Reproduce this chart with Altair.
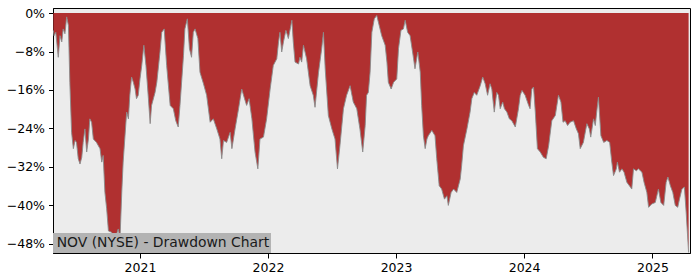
import altair as alt
import pandas as pd

# Drawdown series: days since 2021-01-01 and drawdown (%)
day_offsets = [
    -247, -245, -240, -233, -228, -223, -219, -214, -209, -204, -200, -195, -190, -185, -181, -176,
    -171, -166, -162, -157, -152, -147, -143, -138, -133, -124, -114, -109, -105, -100, -95, -90,
    -81, -71, -62, -57, -52, -48, -38, -33, -29, -24, -19, -14, -10, -5, 0, 5, 11, 17, 24, 29, 33,
    43, 48, 57,
    62, 69, 76, 86, 95, 102, 109, 114, 124, 128, 135, 141, 147, 152, 157, 165, 171, 181, 190, 200,
    209, 219, 228, 233, 238, 247, 257, 262, 271, 281, 290, 298, 304, 311, 319, 328, 336, 342, 352,
    361, 371, 380, 390, 395, 399, 404, 409, 416, 423, 433, 437, 442, 452, 456, 461, 466, 475, 485,
    494, 499, 509, 518, 523, 528, 537, 547, 556, 563, 570, 580, 589, 599, 608, 618, 627, 635, 642,
    646, 651, 656, 661, 668, 675, 682, 689, 699, 704, 708, 716, 723, 732, 737, 744, 751, 756, 763,
    770, 780, 784, 792, 799, 803, 808, 813, 818, 822, 832, 841, 846, 853, 860, 868, 875, 879, 887,
    894, 903, 913, 917, 922, 932, 941, 946, 953, 960, 970, 977, 984, 991, 998, 1003, 1010, 1017,
    1022, 1027, 1034, 1039, 1046, 1053, 1060, 1070, 1079, 1084, 1089, 1098, 1108, 1112, 1117, 1122,
    1127, 1133, 1141, 1150, 1158, 1165, 1174, 1184, 1193, 1200, 1206, 1212, 1219, 1226, 1236, 1244,
    1250, 1255, 1264, 1274, 1281, 1285, 1293, 1298, 1302, 1307, 1314, 1322, 1331, 1339, 1345, 1350,
    1358, 1361, 1367, 1374, 1380, 1388, 1398, 1402, 1407, 1415, 1421, 1431, 1437, 1445, 1450, 1459,
    1469, 1478, 1485, 1493, 1500, 1505, 1512, 1519, 1526, 1533, 1538, 1545, 1552, 1557, 1564,
]
drawdown_pct = [
    -3.6, -4.7, -4.0, -9.2, -4.7, -6.0, -3.3, -4.3, -0.8, -2.6, -14.4, -24.8, -28.2, -26.5, -26.9, -30.3,
    -31.4, -30.0, -26.9, -24.1, -28.9, -26.2, -22.0, -22.7, -26.2, -26.9, -28.2, -31.0, -29.6, -37.3, -40.7, -45.3,
    -45.6, -47.0, -44.9, -47.0, -37.3, -31.0, -20.6, -22.0, -17.1, -13.3, -14.4, -15.8, -17.8, -17.1, -13.7, -10.9, -6.7, -10.9, -17.8, -23.0, -19.2,
    -16.5, -14.4, -8.1,
    -4.0, -3.3, -10.9, -19.2, -19.9, -22.4, -23.7, -19.2, -8.8, -3.3, -1.2, -7.4, -9.2, -4.0, -3.3, -5.3, -12.3, -14.7, -17.1, -22.7,
    -22.0, -24.1, -26.2, -30.3, -26.5, -26.9, -24.8, -28.2, -24.1, -19.9, -15.8, -17.8, -19.2, -17.8, -22.0, -28.9, -32.4, -26.2, -25.8,
    -22.0, -15.8, -10.9, -9.5, -6.0, -4.0, -8.1, -6.0, -3.6, -5.3, -1.5, -6.0, -10.2, -10.6, -9.2, -10.2, -6.7, -9.5, -15.1,
    -17.1, -19.6, -12.3, -7.4, -4.0, -11.6, -21.3, -24.1, -26.2, -32.4, -27.6, -19.9, -17.1, -15.1, -18.5, -19.9, -24.1, -28.9, -23.4,
    -17.1, -16.5, -12.3, -4.0, -1.2, -0.5, -2.6, -4.7, -6.7, -10.2, -14.4, -15.8, -14.4, -13.7, -7.4, -3.6, -3.3, -1.5, -4.0,
    -4.7, -9.5, -11.6, -8.1, -12.3, -19.2, -25.5, -28.2, -26.2, -25.5, -24.4, -25.5, -30.3, -35.9, -36.6, -38.7, -38.0, -40.0, -37.3,
    -36.6, -37.3, -34.5, -31.7, -27.6, -24.1, -20.6, -17.8, -16.5, -17.1, -15.1, -13.3, -14.7, -17.1, -14.7, -15.8, -20.6, -16.5,
    -17.1, -19.9, -18.5, -19.9, -20.6, -22.0, -22.4, -23.7, -19.9, -17.1, -16.1, -17.1, -19.2, -19.9, -15.8, -15.4,
    -20.6, -28.2, -28.9, -30.0, -30.3, -27.6, -22.4, -21.3, -17.1, -18.5, -22.7, -22.4, -23.4, -22.7, -22.4, -24.1,
    -25.1, -28.2, -26.9, -23.0, -24.1, -25.8, -22.0, -23.4, -20.6, -17.5, -25.5, -26.9, -26.5, -26.9, -31.0, -33.8,
    -32.4, -31.0, -33.1, -32.4, -33.1, -35.2, -36.2, -36.6, -32.4, -32.8, -32.4, -33.1, -35.2, -37.3, -40.4, -39.7,
    -39.4, -36.6, -39.4, -40.0, -35.2, -34.1, -35.9, -37.3, -40.0, -40.4, -38.7, -36.6, -36.2, -41.4, -49.8,
]
base_date = "2021-01-01"
year_ticks = [2021, 2022, 2023, 2024, 2025]
y_ticks = [0, -8, -16, -24, -32, -40, -48]
label_text = "NOV (NYSE) - Drawdown Chart"

df = pd.DataFrame({
    "date": pd.Timestamp(base_date) + pd.to_timedelta(day_offsets, unit="D"),
    "dd": drawdown_pct,
})

W, H = 637, 245

x_enc = alt.X(
    "date:T",
    scale=alt.Scale(domain=[alt.DateTime(year=2020, month=4, date=28),
                            alt.DateTime(year=2025, month=4, date=18)]),
    axis=alt.Axis(
        values=[alt.DateTime(year=y, month=1, date=1) for y in year_ticks],
        format="%Y", title=None, grid=False,
        labelFont="DejaVu Sans", labelFontSize=12.5, labelColor="#000000",
        tickColor="#000000", tickSize=5, labelPadding=3,
        domainColor="#000000", labelFlush=False,
    ),
)
y_scale = alt.Scale(domain=[-49.9, 1.05], nice=False, zero=False)
y_enc = alt.Y(
    "dd:Q", scale=y_scale,
    axis=alt.Axis(
        values=y_ticks, title=None, grid=False,
        labelExpr="datum.value == 0 ? '0%' : '\u2212' + abs(datum.value) + '%'",
        labelFont="DejaVu Sans", labelFontSize=12.5, labelColor="#000000",
        tickColor="#000000", tickSize=4.5, labelPadding=4,
        domainColor="#000000",
    ),
)

area = alt.Chart(df).mark_area(color="#b03030", opacity=1, interpolate="linear").encode(
    x=x_enc, y=y_enc, y2=alt.value(0)
)
edge = alt.Chart(df).mark_line(color="#8a8a8a", strokeWidth=0.9).encode(
    x="date:T", y="dd:Q"
)

label_df = pd.DataFrame({"label": [label_text]})
box = alt.Chart(label_df).mark_rect(color="#b3b3b3", opacity=1).encode(
    x=alt.value(0), x2=alt.value(218), y=alt.value(225), y2=alt.value(H)
)
label = alt.Chart(label_df).mark_text(
    align="left", baseline="alphabetic", font="DejaVu Sans", fontSize=13.9, color="#1a1a1a"
).encode(x=alt.value(3.7), y=alt.value(239), text="label:N")

chart = alt.layer(area, edge, box, label).properties(
    width=W, height=H,
    background="#ffffff",
    autosize=alt.AutoSizeParams(type="none"),
    padding={"left": 53, "top": 8, "right": 10, "bottom": 27},
).configure_view(
    fill="#ececec", stroke="#000000", strokeWidth=1
)

chart.save("out.html", embed_options={"renderer": "svg", "actions": False})
